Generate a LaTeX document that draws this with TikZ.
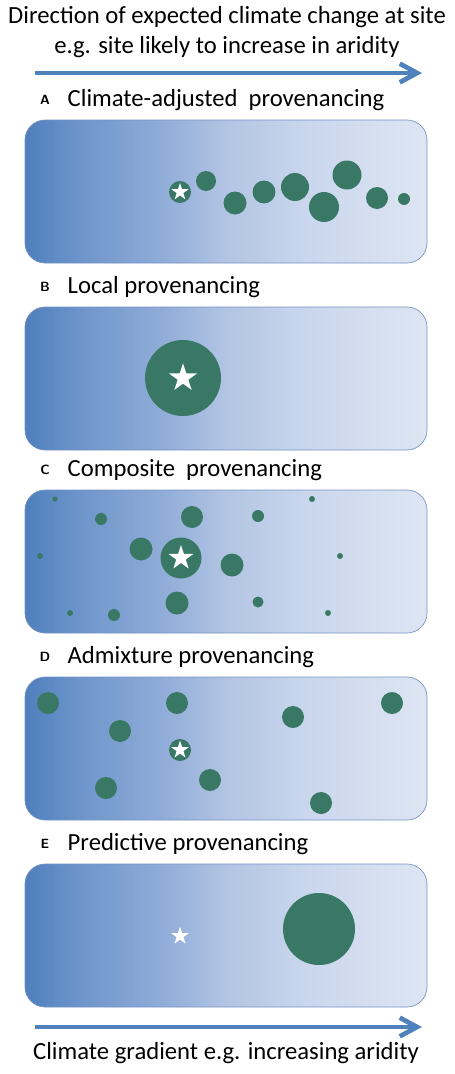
\documentclass[tikz,border=0pt]{standalone}
\usepackage{fontspec}
\setmainfont{Carlito}
\usetikzlibrary{arrows.meta, positioning, shapes.geometric}
\definecolor{seedgreen}{RGB}{58,120,102}
\definecolor{arrowblue}{RGB}{79,129,189}
\definecolor{rimblue}{RGB}{118,146,196}
% left to right: wet end (dark) to arid end (pale)
\pgfdeclarehorizontalshading{aridity}{100bp}{%
  rgb(0bp)=(0.31,0.50,0.74); rgb(25bp)=(0.31,0.50,0.74);
  rgb(32.5bp)=(0.44,0.59,0.80); rgb(42.5bp)=(0.57,0.68,0.85);
  rgb(50bp)=(0.70,0.77,0.89); rgb(60bp)=(0.79,0.84,0.93);
  rgb(75bp)=(0.87,0.90,0.95); rgb(100bp)=(0.87,0.90,0.95)}

\begin{document}
\begin{tikzpicture}[
    x=0.75pt, y=-0.75pt,
    >={Straight Barb[length=13pt, width=14pt]},
    every node/.style={font=\fontsize{18.5}{22}\selectfont},
    site/.style={draw=rimblue, line width=0.5pt, shading=aridity, rounded corners=15pt},
    seed/.style={fill=seedgreen},
    letter/.style={font=\sffamily\bfseries\fontsize{10}{11}\selectfont},
    sitestar/.style={star, star points=5, star point ratio=2.6, fill=white, inner sep=0pt, minimum size=#1},
    gradarrow/.style={->, arrowblue, line width=3.5pt},
]
\useasboundingbox (0,0) rectangle (454,1074);
% heading and arrow on top
\node[align=center, font=\fontsize{18.5}{22.5}\selectfont] (title) at (227,32)
   {Direction of expected climate change at site\\e.g. site likely to increase in aridity};
\coordinate (topstart) at (35,73);
\coordinate (topend) at (422,73);
\draw[gradarrow] (topstart) -- (topend);
% five panels, one box each
\foreach \p/\t/\name in {A/120/Climate-adjusted\ \ provenancing, B/307/Local provenancing,
    C/490/Composite\ \ provenancing, D/677/Admixture provenancing, E/864/Predictive provenancing}{
  \node[letter] (letter\p) at (45,\t-20) {\p};
  \node[anchor=west] (head\p) at (63,\t-20) {\name};
  \path[site] (25,\t) rectangle (427,\t+143);
}
% A: seeds shifted towards the future climate
\foreach \x/\y/\r in {180/192/11, 206/181/10, 235/203/11.5, 264/192/11.5, 295/187/14,
    324/207/15, 347/175/14.5, 377/198/11, 404/199/6}
  \fill[seed] (\x,\y) circle[radius=\r];
\node[sitestar=13.5pt] (starA) at (180,192) {};
% B: local seed only
\fill[seed] (183,378) circle[radius=38];
\node[sitestar=22pt] (starB) at (183,378) {};
% C: big local share plus scattered sources
\foreach \x/\y/\r in {55/499/2.7, 101/519/6, 192/517/11, 258/516/6, 312/499/3,
    40/556/3, 141/549/11.5, 181/558/20.5, 232/565/11.5, 340/556/3,
    177/603/11.5, 258/602/5.5, 70/613/3, 114/615/6, 328/613/3}
  \fill[seed] (\x,\y) circle[radius=\r];
\node[sitestar=19.5pt] (starC) at (181,558) {};
% D: equal shares across the gradient
\foreach \x/\y in {48/703, 177/703, 392/703, 293/717, 120/731, 180/750,
    106/788, 210/780, 321/803}
  \fill[seed] (\x,\y) circle[radius=11];
\node[sitestar=14pt] (starD) at (180,750) {};
% E: seed from the predicted climate only
\fill[seed] (319,929) circle[radius=36];
\node[sitestar=14pt] (starE) at (180,936) {};
% bottom arrow and caption
\coordinate (botstart) at (35,1027);
\coordinate (botend) at (422,1027);
\draw[gradarrow] (botstart) -- (botend);
\node (gradient) at (226,1053) {Climate gradient e.g. increasing aridity};
\end{tikzpicture}
\end{document}
